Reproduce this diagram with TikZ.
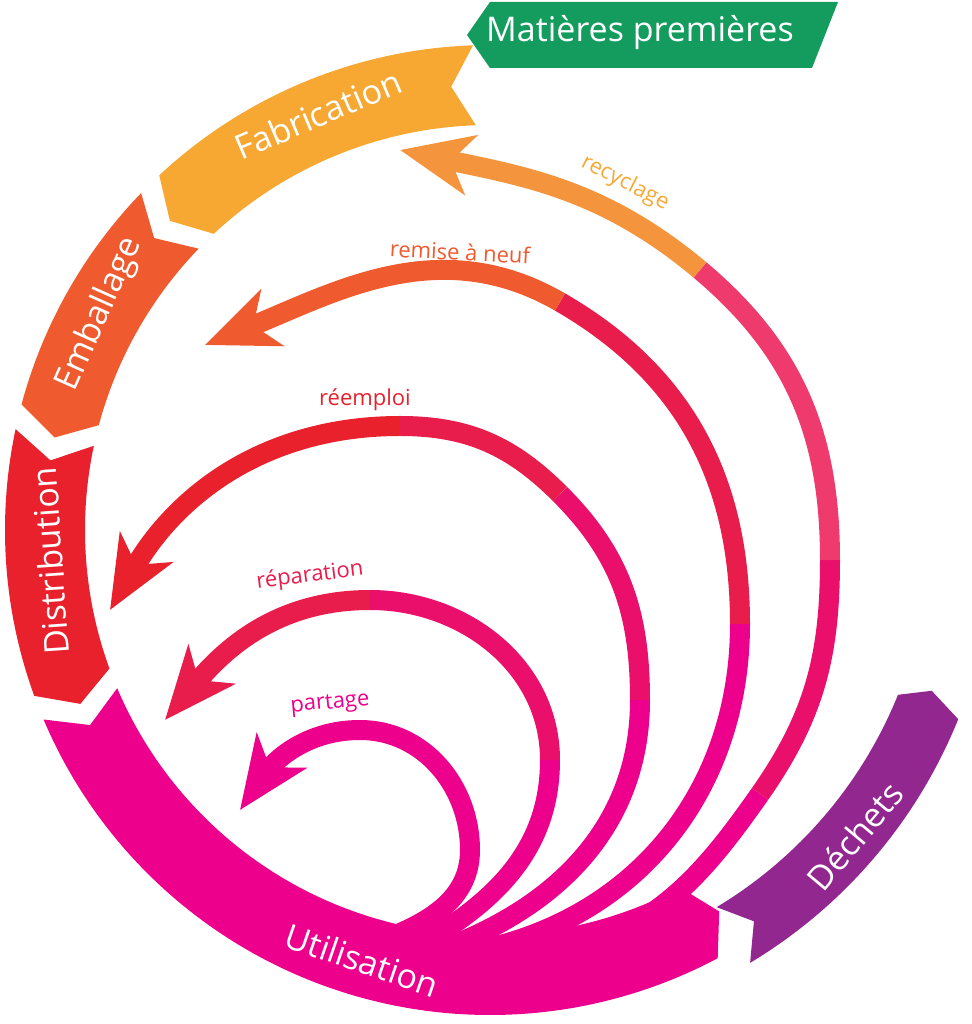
\documentclass[tikz,border=0pt]{standalone}
\usepackage{fontspec}
\setmainfont{Open Sans}
\usetikzlibrary{arrows.meta}
\definecolor{cFab}{HTML}{F7A833}
\definecolor{cEmb}{HTML}{EF5A2F}
\definecolor{cDis}{HTML}{E8212D}
\definecolor{cUti}{HTML}{EC008C}
\definecolor{cDec}{HTML}{92278F}
\definecolor{cMat}{HTML}{139C5E}
\definecolor{cMid}{HTML}{EF3A6E}
\definecolor{cOr}{HTML}{F4943C}
\definecolor{cCri}{HTML}{E91D4B}
\definecolor{cRM}{HTML}{EA0F6A}
\newcommand{\ringseg}[4]{% color, a1 (notch), a2 (point), delta
  \fill[#1] (#2:485) arc[start angle=#2,end angle=#3,radius=485] -- (#3+#4:445) -- (#3:405)
    arc[start angle=#3,end angle=#2,radius=405] -- (#2+#4:445) -- cycle;}
\begin{document}
\begin{tikzpicture}[x=0.5pt,y=0.5pt,
  band/.style={text=white,font=\fontsize{17}{20}\selectfont},
  lab/.style={font=\fontsize{11}{13}\selectfont},
  loop/.style={line width=10pt},
  head/.style={line width=10pt,-{Stealth[length=36pt,width=30pt,inset=10pt]}}]
\useasboundingbox (0,0) rectangle (972,1024);
% outer ring
\begin{scope}[shift={(490,494)}]
  \ringseg{cFab}{92}{133}{3}
  \ringseg{cEmb}{136}{165}{3}
  \ringseg{cDis}{168}{200}{3}
  \ringseg{cUti}{203}{298}{3}
  \fill[cDec] (301:505) arc[start angle=301,end angle=338,radius=505] -- (340:470) -- (338:440)
    arc[start angle=338,end angle=301,radius=440] -- (304:472) -- cycle;
\end{scope}
\fill[cMat] (467,989) -- (490,1022) -- (838,1022) -- (812,956) -- (490,956) -- cycle;
% labels on bands
\node[band] (mat) at (640,991) {Matières premières};
\node[band,rotate=23] (fab) at (318,910) {Fabrication};
\node[band,rotate=66] (emb) at (100,710) {Emballage};
\node[band,rotate=94] (dis) at (50,463) {Distribution};
\node[band,rotate=-19] (uti) at (362,64) {Utilisation};
\node[band,rotate=50] (dec) at (855,188) {Déchets};
% recyclage
\coordinate (r0) at (560,70); \coordinate (r1) at (830,464); \coordinate (r2) at (700,754); \coordinate (r3) at (400,874);
\coordinate (ra) at (760,230);
\draw[loop,cUti] (r0) to[out=15,in=-125] (ra);
\draw[loop,cRM] (ra) to[out=55,in=-90] (r1);
\draw[loop,cMid] (r1) to[out=90,in=-40] (r2);
\draw[head,cOr] (r2) to[out=140,in=-12] (r3);
% remise a neuf
\coordinate (n0) at (480,74); \coordinate (n1) at (740,400); \coordinate (n2) at (560,722); \coordinate (n3) at (205,679);
\draw[loop,cUti] (n0) to[out=12,in=-90] (n1);
\draw[loop,cCri] (n1) to[out=90,in=-30] (n2);
\draw[head,cEmb] (n2) to[out=150,in=22] (n3);
% reemploi
\coordinate (e0) at (440,74); \coordinate (e1) at (640,324); \coordinate (e2) at (400,598); \coordinate (e3) at (110,414);
\coordinate (ea) at (560,530);
\draw[loop,cUti] (e0) to[out=20,in=-90] (e1);
\draw[loop,cRM] (e1) to[out=90,in=-45] (ea);
\draw[loop,cCri] (ea) to[out=135,in=0] (e2);
\draw[head,cDis] (e2) to[out=180,in=60] (e3);
% reparation
\coordinate (p0) at (420,79); \coordinate (p1) at (550,264); \coordinate (p2) at (370,424); \coordinate (p3) at (165,304);
\draw[loop,cUti] (p0) to[out=30,in=-90] (p1);
\draw[loop,cRM] (p1) to[out=90,in=0] (p2);
\draw[head,cCri] (p2) to[out=180,in=50] (p3);
% partage
\coordinate (t0) at (370,79); \coordinate (t1) at (470,174); \coordinate (t2) at (360,294); \coordinate (t3) at (240,214);
\draw[head,cUti] (t0) to[out=20,in=-90] (t1) to[out=90,in=0] (t2) to[out=180,in=55] (t3);
% loop labels
\node[lab,text=cFab,rotate=-27] (lrec) at (625,841) {recyclage};
\node[lab,text=cEmb,rotate=-3] (lrem) at (460,772) {remise à neuf};
\node[lab,text=cDis] (lree) at (365,624) {réemploi};
\node[lab,text=cCri,rotate=7] (lrep) at (310,448) {réparation};
\node[lab,text=cUti,rotate=5] (lpar) at (330,320) {partage};
\end{tikzpicture}
\end{document}
